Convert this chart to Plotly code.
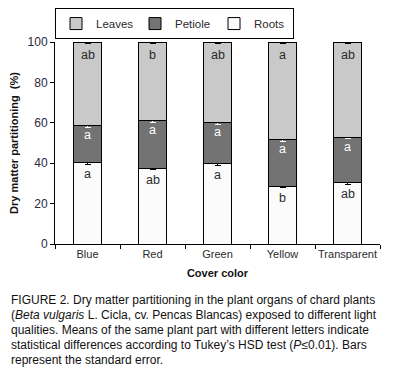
import plotly.graph_objects as go

categories = ["Blue", "Red", "Green", "Yellow", "Transparent"]
roots = [40.4, 37.5, 40.0, 28.6, 30.5]
petiole = [18.3, 23.6, 20.2, 23.0, 22.3]
leaves = [41.3, 38.9, 39.8, 48.4, 47.2]
roots_se = [0.8, 0.8, 1.0, 0.8, 0.8]
petiole_se = [0.8, 0.9, 0.9, 0.8, 0.8]
leaves_se = [0.8, 0.8, 0.8, 0.8, 0.8]
roots_letters = ["a", "ab", "a", "b", "ab"]
petiole_letters = ["a", "a", "a", "a", "a"]
leaves_letters = ["ab", "b", "ab", "a", "ab"]
yticks = [0, 20, 40, 60, 80, 100]

FONT = "Liberation Sans, Arial, sans-serif"
TXT = "#2b2b2b"

fig = go.Figure()
line = dict(color="black", width=1)
fig.add_trace(go.Bar(x=categories, y=roots, name="Roots", marker=dict(color="#fbfbfb", line=line),
                     error_y=dict(type="data", array=roots_se, color="black", thickness=1, width=3), width=0.42))
fig.add_trace(go.Bar(x=categories, y=petiole, name="Petiole", marker=dict(color="#737373", line=line),
                     error_y=dict(type="data", array=petiole_se, color="white", thickness=1, width=3), width=0.42))
fig.add_trace(go.Bar(x=categories, y=leaves, name="Leaves", marker=dict(color="#c9c9c9", line=line),
                     error_y=dict(type="data", array=leaves_se, color="black", thickness=1, width=3), width=0.42))

ann = []
for i, c in enumerate(categories):
    r_top = roots[i]
    p_top = roots[i] + petiole[i]
    l_top = p_top + leaves[i]
    ann.append(dict(x=c, y=r_top - 5.8, text=roots_letters[i], showarrow=False, font=dict(color=TXT, size=12.5, family=FONT)))
    ann.append(dict(x=c, y=p_top - 4.8, text=petiole_letters[i], showarrow=False, font=dict(color="white", size=12.5, family=FONT)))
    ann.append(dict(x=c, y=l_top - 6.2, text=leaves_letters[i], showarrow=False, font=dict(color=TXT, size=12.5, family=FONT)))

caption = [
    "FIGURE 2. Dry matter partitioning in the plant organs of chard plants",
    "(<i>Beta vulgaris</i> L. Cicla, cv. Pencas Blancas) exposed to different light",
    "qualities. Means of the same plant part with different letters indicate",
    "statistical differences according to Tukey’s HSD test (<i>P</i>≤0.01). Bars",
    "represent the standard error.",
]
for k, t in enumerate(caption):
    ann.append(dict(xref="paper", yref="paper", x=-46/325, y=(244 - (300 + 15*k)) / 202, xanchor="left", yanchor="middle",
                    text=t, showarrow=False, font=dict(color="#111", size=12, family=FONT), align="left"))

fig.update_layout(
    width=386, height=370,
    margin=dict(l=47, r=14, t=34, b=134, autoexpand=False),
    barmode="stack",
    plot_bgcolor="white", paper_bgcolor="white",
    font=dict(family=FONT, color=TXT, size=11),
    showlegend=True,
    legend=dict(orientation="h", traceorder="reversed", x=0, y=1.168, xanchor="left", yanchor="top",
                bordercolor="black", borderwidth=1, font=dict(size=11.5, family=FONT, color=TXT),
                itemwidth=30, entrywidth=34, tracegroupgap=0),
    xaxis=dict(showline=True, linecolor="black", linewidth=1, ticks="outside", tickson="boundaries",
               ticklen=4, tickcolor="black", tickfont=dict(size=11, family=FONT, color=TXT), tickangle=0,
               automargin=False,
               title=dict(text="<b>Cover color</b>", font=dict(size=11, family=FONT, color="#111"), standoff=10),
               range=[-0.5, 4.5]),
    yaxis=dict(range=[0, 100], tickvals=yticks, showline=True, linecolor="black", linewidth=1, ticks="outside",
               ticklen=4, tickcolor="black", showgrid=False, zeroline=False, automargin=False,
               tickfont=dict(size=12, family=FONT, color="#2a2a44"),
               title=dict(text="<b>Dry matter partitioning  (%)</b>", font=dict(size=11, family=FONT, color="#111"), standoff=6)),
    annotations=ann,
)

fig.write_html("out.html")
